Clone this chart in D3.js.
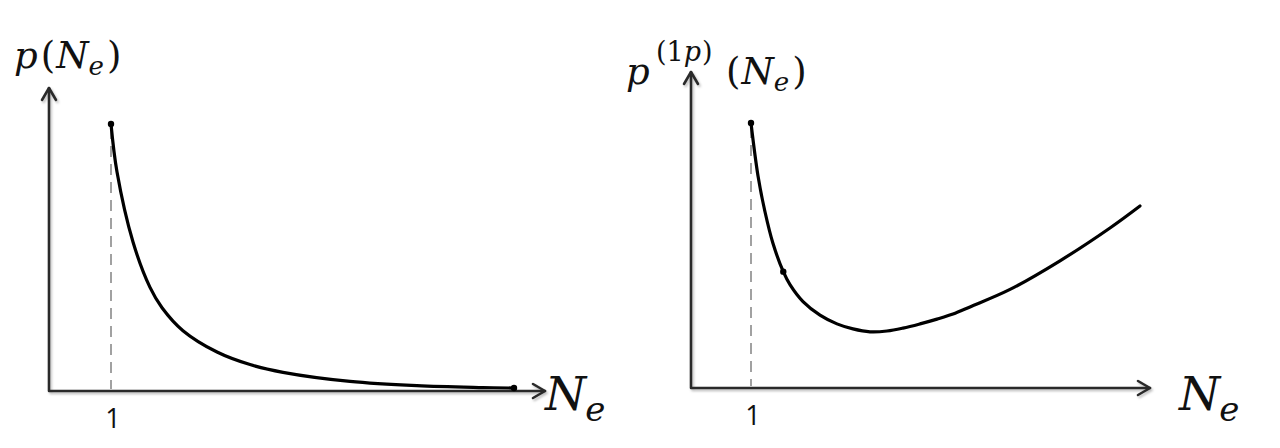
<!DOCTYPE html>
<html><head><meta charset="utf-8">
<script src="https://cdn.jsdelivr.net/npm/d3@7"></script>
<style>
html,body{margin:0;padding:0;background:#fff;}
svg{display:block;}
.math{font-family:"DejaVu Serif";fill:#111;}
.tick{font-family:"Open Sans","Liberation Sans",sans-serif;fill:#111;}
</style>
</head><body>
<svg id="c" width="1280" height="448"></svg>
<script>
// ---- data ----
const leftNe  = [1.0, 1.097, 1.355, 1.629, 1.823, 2.161, 2.71, 3.242, 3.774, 4.855, 5.935, 7.0, 7.5];
const leftP   = [1.0, 0.82, 0.558, 0.388, 0.312, 0.226, 0.146, 0.099, 0.070, 0.036, 0.020, 0.013, 0.011];
const rightNe = [1.0, 1.117, 1.233, 1.367, 1.538, 1.65, 1.867, 2.15, 2.433, 2.70, 2.983, 3.267, 3.533, 3.817, 4.10, 4.367, 4.65, 5.317, 6.15, 6.983, 7.483];
const rightP  = [1.0, 0.80, 0.665, 0.545, 0.439, 0.390, 0.326, 0.275, 0.242, 0.223, 0.212, 0.215, 0.226, 0.242, 0.260, 0.279, 0.306, 0.372, 0.480, 0.604, 0.687];
const leftDots  = [0, 12];
const rightDots = [0, 4];
const tickLabels = ["1"];
const tickValues = [1];

const svg = d3.select("#c");
const defs = svg.append("defs");
const f = defs.append("filter").attr("id","sh").attr("x","-10%").attr("y","-10%").attr("width","130%").attr("height","130%");
f.append("feDropShadow").attr("dx",1.5).attr("dy",2).attr("stdDeviation",1.2).attr("flood-color","#000").attr("flood-opacity",0.25);

function panel(cfg) {
  const x = d3.scaleLinear().domain([0, 1]).range([cfg.x0, cfg.x1]);
  const y = d3.scaleLinear().domain([0, 1]).range([cfg.y0, cfg.y1]);
  const g = svg.append("g");
  const ax = g.append("g").attr("filter","url(#sh)").attr("stroke","#2b2b2b").attr("stroke-width",2.6)
      .attr("fill","none").attr("stroke-linecap","round").attr("stroke-linejoin","round");
  const xmax = x.invert(cfg.xTip), ymax = y.invert(cfg.yTip);
  ax.append("path").attr("d", `M${x(0)},${y(ymax)} L${x(0)},${y(0)} L${x(xmax)},${y(0)}`);
  ax.append("path").attr("d", `M${x(0)-7},${y(ymax)+12} L${x(0)},${y(ymax)} L${x(0)+7},${y(ymax)+12}`);
  ax.append("path").attr("d", `M${x(xmax)-12},${y(0)-7} L${x(xmax)},${y(0)} L${x(xmax)-12},${y(0)+7}`);
  const data = cfg.ne.map((v,i)=>({x:v, y:cfg.p[i]}));
  g.append("line").attr("x1", x(tickValues[0])).attr("x2", x(tickValues[0]))
    .attr("y1", y(data[0].y)+4).attr("y2", y(0)-2)
    .attr("stroke","#8a8a8a").attr("stroke-width",1.6).attr("stroke-dasharray","11,7");
  g.selectAll("text.tick").data(tickValues).enter().append("text").attr("class","tick")
    .attr("x", d=>x(d)+2).attr("y", y(0)+37).attr("text-anchor","middle")
    .style("font-size","27px")
    .text((d,i)=>tickLabels[i]);
  g.append("path").datum(data)
    .attr("d", d3.line().x(d=>x(d.x)).y(d=>y(d.y)).curve(d3.curveCatmullRom.alpha(0.5)))
    .attr("fill","none").attr("stroke","#000").attr("stroke-width",3.2).attr("stroke-linecap","round");
  g.selectAll("circle").data(cfg.dots.map(i=>data[i])).enter().append("circle")
    .attr("cx", d=>x(d.x)).attr("cy", d=>y(d.y)).attr("r",3.2).attr("fill","#000");
}

panel({x0:49, x1:111, y0:391, y1:124, xTip:545, yTip:88, ne:leftNe, p:leftP, dots:leftDots});
panel({x0:691, x1:751, y0:388, y1:123, xTip:1150, yTip:72, ne:rightNe, p:rightP, dots:rightDots});

function it(sel, s, size, dy, dx, italic, xabs) {
  const ts = sel.append("tspan").text(s).style("font-size", size + "px");
  if (italic) ts.style("font-style","italic");
  if (dy) ts.attr("dy", dy);
  if (dx) ts.attr("dx", dx);
  if (xabs !== undefined) ts.attr("x", xabs);
  return ts;
}
let t = svg.append("text").attr("class","math").attr("x",14).attr("y",68);
it(t,"p",37,0,0,true);
it(t,"(",37,0,3,false);
it(t,"N",37,0,1,true);
it(t,"e",26,7,0,true);
it(t,")",37,-7,3,false);

t = svg.append("text").attr("class","math").attr("x",626).attr("y",84);
it(t,"p",37,0,0,true);
it(t,"(",27,-23,0,false,656);
it(t,"1",27,0,0,false);
it(t,"p",27,0,0,true);
it(t,")",27,0,1,false);
it(t,"(",37,23,0,false,726);
it(t,"N",37,0,1,true);
it(t,"e",26,7,0,true);
it(t,")",37,-7,3,false);

function neLabel(x, y) {
  const tt = svg.append("text").attr("class","math").attr("x",x).attr("y",y);
  it(tt,"N",47,0,0,true);
  it(tt,"e",34,11,-1,true);
}
neLabel(545, 410);
neLabel(1179, 410);
</script>
</body></html>
